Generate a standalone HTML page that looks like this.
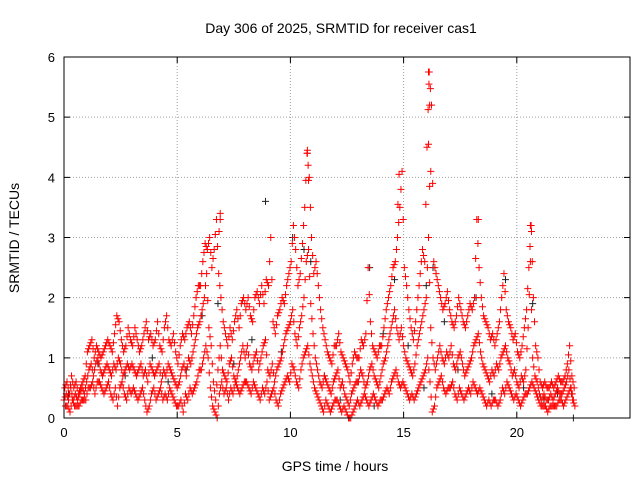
<!DOCTYPE html>
<html><head><meta charset="utf-8"><style>
body{margin:0;background:#fff;}
svg{display:block;font-family:"Liberation Sans",sans-serif;}
</style></head><body>
<svg id="chart" width="640" height="480" viewBox="0 0 640 480">
<rect x="0" y="0" width="640" height="480" fill="#fff"/>
<text x="341" y="33" font-size="14" text-anchor="middle">Day 306 of 2025, SRMTID for receiver cas1</text>
<text x="0" y="0" font-size="14" text-anchor="middle" transform="translate(19,238) rotate(-90)">SRMTID / TECUs</text>
<text x="335" y="471" font-size="14" text-anchor="middle">GPS time / hours</text>
<g id="grid"></g><g id="marks"></g><g id="axes"></g>
</svg>
<script>
const xTicks=[0,5,10,15,20];
const yTicks=[0,1,2,3,4,5,6];
const stepHours=0.1;
const seriesA=[.3,.4,.3,.5,.3,.4,.3,.4,.5,.4, .6,.8,.9,.7,.9,1.0,.8,.7,.8,.9, .8,.7,.9,.8,1.0,.9,.7,.8,.9,.8, .9,.8,.7,.8,.9,.7,.8,.6,.9,.8, .7,.8,.9,.6,.8,.7,.9,.8,.7,.6, .5,.6,.8,.9,.7,1.0,.9,1.1,1.3,1.5, 1.6,1.8,2.0,2.4,1.5,1.2,.6,.3,.8,1.2, .8,.7,.6,.9,1.0,.7,.6,.8,1.0,1.2, 1.0,1.2,.9,.8,1.0,1.1,.8,1.0,1.2,1.3, .8,.7,.9,.6,.8,.9,1.0,1.2,1.4,1.5, 1.6,1.8,1.4,1.2,1.5,1.7,2.0,2.6,2.8,1.9, 1.4,1.0,.8,.6,.5,.7,.6,.5,.4,.6, .7,.8,.5,.6,.4,.3,.2,.4,.5,.6, .6,.8,.7,.5,.6,.8,.9,.7,.6,.5, .7,.9,1.0,1.2,1.4,1.6,1.8,1.5,1.3,1.5, 1.2,1.0,.9,.8,.7,.9,1.2,1.4,1.6,1.8, 2.0,3.0,1.5,1.0,.8,1.0,1.2,1.0,.9,1.1, 1.0,1.2,.9,.8,1.0,1.1,.9,.7,.8,.9, 1.0,1.2,1.3,1.4,1.1,.9,.8,.7,.6,.8, .7,.9,.8,1.0,1.1,1.2,1.0,.9,.7,.8, .6,.5,.7,.6,.8,1.5,2.6,1.0,.7,.6, .4,.3,.4,.3,.3,.4,.3,.4,.5,.4, .4,.5,.6,.8,.5,.3];
const seriesB=[.5,.6,.4,.7,.5,.6,.4,.5,.6,.7, 1.1,1.2,1.3,1.0,1.2,1.1,1.0,1.1,1.2,1.3, 1.2,1.1,1.4,1.7,1.6,1.3,1.1,1.2,1.5,1.3, 1.2,1.5,1.3,1.1,1.2,1.4,1.6,1.3,1.4,1.2, 1.3,1.6,1.2,1.1,1.5,1.7,1.3,1.2,1.4,1.1, .9,1.2,1.4,1.3,1.5,1.6,1.4,1.7,2.0,2.2, 2.2,2.6,2.9,2.8,3.0,2.5,2.8,3.3,2.4,2.0, 1.6,1.4,1.2,1.5,1.3,1.6,1.8,1.5,1.9,2.0, 1.8,2.0,1.7,1.6,2.0,2.1,1.9,2.2,1.9,2.3, 2.2,3.0,1.6,1.4,1.7,1.8,2.0,1.9,2.2,2.4, 2.6,3.2,2.8,2.2,2.4,2.9,3.5,4.4,4.0,3.0, 2.4,2.6,2.2,1.8,1.5,1.3,1.1,1.0,.9,1.2, 1.2,1.4,1.1,1.0,.9,.8,.6,.9,1.1,1.0, 1.0,1.3,1.2,1.4,2.5,1.6,1.2,1.1,1.0,1.2, 1.2,1.5,1.8,2.0,2.2,2.5,2.6,3.0,3.5,4.1, 2.5,2.2,1.8,1.5,1.3,1.6,2.0,2.4,2.8,2.6, 4.5,5.75,5.2,2.6,2.4,2.2,2.0,1.8,1.9,2.1, 1.8,1.6,1.5,1.7,2.0,1.8,1.6,1.5,1.7,1.9, 1.8,2.0,3.3,2.5,2.0,1.7,1.6,1.5,1.3,1.4, 1.2,1.4,1.6,2.0,2.4,1.8,1.6,1.5,1.3,1.4, 1.1,1.0,1.2,1.5,1.8,2.5,3.2,2.0,1.2,1.0, .6,.5,.6,.5,.5,.6,.5,.6,.7,.6, .6,.7,.9,1.2,.7,.5];
const seriesC=[.2,.2,.1,.3,.2,.2,.2,.3,.3,.3, .5,.5,.6,.4,.6,.6,.5,.4,.5,.6, .4,.3,.5,.2,.5,.6,.4,.3,.5,.4, .5,.4,.3,.4,.5,.3,.1,.2,.4,.5, .3,.4,.5,.3,.4,.3,.5,.4,.3,.2, .2,.3,.1,.4,.3,.5,.4,.5,.6,.8, .8,1.0,1.2,1.0,.5,.2,.1,.0,.4,.6, .4,.5,.3,.5,.4,.6,.5,.4,.5,.6, .6,.5,.4,.6,.5,.4,.3,.5,.4,.6, .3,.4,.5,.3,.2,.4,.5,.6,.7,.6, .9,.8,.6,.5,.8,1.0,1.1,1.2,.9,.7, .5,.4,.3,.2,.1,.3,.2,.1,.2,.3, .3,.2,.1,.2,.1,.0,.0,.1,.2,.3, .2,.3,.4,.3,.2,.3,.4,.3,.2,.3, .3,.4,.5,.4,.6,.7,.8,.6,.5,.6, .5,.4,.3,.4,.3,.4,.5,.6,.7,.8, 1.0,.6,.1,.2,.5,.6,.7,.5,.4,.5, .5,.6,.4,.3,.5,.4,.3,.4,.5,.4, .6,.5,.4,.5,.4,.3,.2,.3,.2,.3, .3,.2,.3,.5,.4,.6,.5,.4,.3,.4, .3,.2,.3,.4,.4,.5,.6,.5,.4,.3, .2,.2,.2,.1,.2,.2,.2,.2,.3,.3, .2,.3,.4,.5,.3,.2];
const spikeT=[6.9,6.9,6.85,10.75,10.75,10.8,14.8,14.75,16.1,16.12,16.15,16.1,16.2,16.15,20.6,20.65,18.3];
const spikeV=[3.4,3.3,3.1,4.45,4.4,3.95,4.05,3.55,5.75,5.55,5.2,4.55,4.1,3.85,3.2,3.1,3.3];
const blackT=[0.2,1.5,2.7,3.9,4.6,5.4,6.1,6.8,7.5,8.3,8.9,9.6,10.1,10.6,10.9,11.5,12.2,13.0,13.5,14.1,14.6,15.2,15.9,16.3,16.8,17.4,18.2,18.9,19.5,20.3,20.7,21.2,21.8,22.5,13.7,16.0];
const blackV=[0.4,0.9,0.7,1.0,0.6,0.8,1.7,1.9,0.9,1.3,3.6,1.1,3.0,2.8,2.6,0.7,0.3,0.6,2.5,1.4,2.3,1.2,0.5,2.5,1.6,0.8,2.0,0.4,2.3,0.5,1.9,0.3,0.4,0.0,0.2,2.2];

const X0=64,X1=630,Y0=418,Y1=57;
const xs=h=>X0+h*(X1-X0)/25;
const ys=v=>Y0-v*(Y0-Y1)/6;
const NS="http://www.w3.org/2000/svg";
const grid=document.getElementById('grid'),marks=document.getElementById('marks'),axes=document.getElementById('axes');
function mk(tag,attrs,parent){const e=document.createElementNS(NS,tag);for(const k in attrs)e.setAttribute(k,attrs[k]);parent.appendChild(e);return e;}
xTicks.forEach(t=>{const x=xs(t);
 if(t>0){const g=mk('line',{x1:x,x2:x,y1:Y0,y2:Y1,stroke:'#a0a0a0','stroke-dasharray':'1,2'},grid);
 
 }
 const tk=mk('path',{d:`M${x},${Y0}v-6M${x},${Y1}v6`,stroke:'#000'},axes);
 
 
 const l=mk('text',{x:x,y:Y0+19,'font-size':13,'text-anchor':'middle'},axes);l.textContent=t;
 
 });
yTicks.forEach(t=>{const y=ys(t);
 if(t>0&&t<6){const g=mk('line',{x1:X0,x2:X1,y1:y,y2:y,stroke:'#a0a0a0','stroke-dasharray':'1,2'},grid);
 
 }
 const tk=mk('path',{d:`M${X0},${y}h6M${X1},${y}h-6`,stroke:'#000'},axes);
 
 
 const l=mk('text',{x:X0-9,y:y+5,'font-size':13,'text-anchor':'end'},axes);l.textContent=t;
 
 });
const fr=mk('rect',{x:X0,y:Y1,width:X1-X0,height:Y0-Y1,fill:'none',stroke:'#000'},axes);


function plus(h,v,col,name){const x=xs(h),y=ys(v);
 const p=mk('path',{d:`M${x-3.5},${y}h7M${x},${y-3.5}v7`,stroke:col,'stroke-width':1},marks);
 
 }
blackT.forEach((t,i)=>plus(t,blackV[i],'#202020','black-point'));
[seriesA,seriesB,seriesC].forEach((arr,k)=>arr.forEach((v,i)=>{
 plus(i*stepHours+k*0.033,v,'#ff0000','red-point');
 if(i+1<arr.length) plus(i*stepHours+k*0.033+0.05,(v+arr[i+1])/2,'#ff0000','red-point');
}));
spikeT.forEach((t,i)=>plus(t,spikeV[i],'#ff0000','red-spike-point'));
</script>
</body></html>
